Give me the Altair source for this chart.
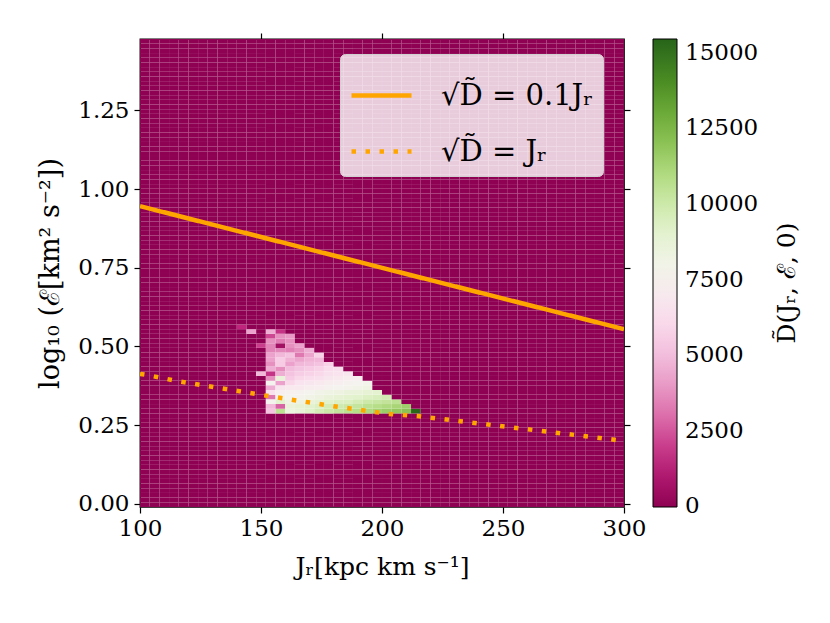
import altair as alt
import pandas as pd

# ---- grid definition (pcolormesh-like) ----
jr_min, jr_max, n_cols = 100.0, 300.0, 50
loge_min, loge_max, n_rows = -0.0101, 1.4771, 100

# non-zero cells: row index -> (first column index, values along the row)
cells_sparse = {
    38: [(10, [1500])],
    37: [(11, [4200]), (13, [4500, 1800])],
    36: [(13, [2200, 3800, 4000])],
    35: [(13, [3800, 3300, 3800])],
    34: [(12, [2000, 3500, 600, 3800, 4200])],
    33: [(13, [3500, 3600, 3400, 3800, 4500])],
    32: [(13, [4200, 4800, 5200, 3200, 4300, 5800])],
    31: [(13, [4200, 5600, 4600, 4300, 4600, 4800])],
    30: [(13, [3800, 5500, 4200, 4800, 5000, 5200, 5800])],
    29: [(13, [4500, 3800, 5000, 5300, 5500, 5800, 6200, 6400])],
    28: [(12, [4800, 1800, 4500, 5200, 5600, 5800, 6000, 6400, 6600, 6800])],
    27: [(13, [3800, 8600, 5500, 6000, 6200, 6400, 6800, 7000, 7200, 7400])],
    26: [(13, [7800, 4200, 6000, 6600, 6800, 7000, 7200, 7400, 7600, 7700, 7900])],
    25: [(13, [4500, 6800, 7000, 7000, 7200, 7400, 7600, 7800, 7900, 8000, 8200])],
    24: [(13, [6500, 7400, 7500, 7600, 7800, 8000, 8200, 8300, 8500, 8600, 8800, 9000])],
    23: [(13, [3200, 8000, 7800, 7900, 8100, 8300, 8600, 8800, 9000, 9200, 9400, 9600, 9800])],
    22: [(13, [7600, 9000, 8200, 8300, 8600, 8900, 9200, 9400, 9500, 9700, 10000, 10200, 10400, 10600])],
    21: [(13, [4800, 2800, 8600, 8800, 9100, 9400, 9700, 9900, 10100, 10300, 10600, 10800, 11000, 11200, 11500])],
    20: [(13, [5200, 10600, 8400, 8700, 9300, 9700, 10000, 10300, 10600, 10800, 11000, 11300, 11600, 11800, 12000, 15400])],
}

color_min, color_max = -20, 15460
colorbar_ticks = [0, 2500, 5000, 7500, 10000, 12500, 15000]
colorbar_title = "D̃(Jᵣ, ℰ, 0)"
x_ticks = [100, 150, 200, 250, 300]
y_ticks = [0.0, 0.25, 0.5, 0.75, 1.0, 1.25]

# curves
label_solid = "√D̃ = 0.1Jᵣ"
label_dot = "√D̃ = Jᵣ"
solid_jr = [100, 200, 300]
solid_loge = [0.946, 0.75, 0.555]
dot_jr = [100, 103.2, 114.8, 155.8, 179.3, 202.4, 214.5, 300]
dot_loge = [0.413, 0.409, 0.391, 0.339, 0.311, 0.286, 0.279, 0.200]

# ---- build table ----
dx = (jr_max - jr_min) / n_cols
dy = (loge_max - loge_min) / n_rows
vals = {}
for r, segs in cells_sparse.items():
    for c0, vs in segs:
        for k, v in enumerate(vs):
            vals[(r, c0 + k)] = v
rows = []
for r in range(n_rows):
    for c in range(n_cols):
        rows.append({
            "x": jr_min + c * dx, "x2": jr_min + (c + 1) * dx,
            "y": loge_min + r * dy, "y2": loge_min + (r + 1) * dy,
            "D": vals.get((r, c), 0),
        })
grid = pd.DataFrame(rows)

lines = pd.DataFrame(
    [{"Jr": a, "logE": b, "curve": label_solid} for a, b in zip(solid_jr, solid_loge)]
    + [{"Jr": a, "logE": b, "curve": label_dot} for a, b in zip(dot_jr, dot_loge)]
)

FONT = "DejaVu Serif"
xscale = alt.Scale(domain=[jr_min, jr_max], nice=False, zero=False)
yscale = alt.Scale(domain=[loge_min, loge_max], nice=False, zero=False)

heat = alt.Chart(grid).mark_rect(stroke="white", strokeWidth=0.5, strokeOpacity=0.03).encode(
    x=alt.X("x:Q", scale=xscale,
            axis=alt.Axis(orient="bottom", values=x_ticks, format="d", tickSize=6, tickWidth=1.2,
                          tickColor="black", labelFontSize=23, labelPadding=4, labelColor="black",
                          labelFlush=False,
                          title="Jᵣ[kpc km s⁻¹]", titleFontSize=25, titleFontWeight="normal",
                          titleColor="black", titlePadding=14, grid=False, domain=False)),
    x2="x2:Q",
    y=alt.Y("y:Q", scale=yscale,
            axis=alt.Axis(orient="left", values=y_ticks, format=".2f", tickSize=6, tickWidth=1.2,
                          tickColor="black", labelFontSize=23, labelPadding=5, labelColor="black",
                          labelFlush=False,
                          title="log₁₀ (ℰ[km² s⁻²])", titleFontSize=27, titleFontWeight="normal",
                          titleColor="black", titlePadding=13, grid=False, domain=False)),
    y2="y2:Q",
    color=alt.Color("D:Q",
                    scale=alt.Scale(scheme="pinkyellowgreen", domain=[color_min, color_max]),
                    legend=alt.Legend(type="gradient", orient="right", direction="vertical",
                                      offset=22, gradientLength=468, gradientThickness=24,
                                      gradientStrokeColor="black", gradientStrokeWidth=1,
                                      values=colorbar_ticks, format="d", labelFontSize=23,
                                      labelColor="black", labelOffset=8, labelOverlap=False,
                                      title=None)),
)

curves = alt.Chart(lines).mark_line(color="#ffa500", strokeWidth=4.5, strokeCap="butt", clip=True).encode(
    x=alt.X("Jr:Q", scale=xscale,
            axis=alt.Axis(orient="top", values=x_ticks[1:-1], labels=False, title="", tickSize=6,
                          tickWidth=1.2, tickColor="black", grid=False, domain=False)),
    y=alt.Y("logE:Q", scale=yscale,
            axis=alt.Axis(orient="right", values=y_ticks, labels=False, title="", tickSize=6,
                          tickWidth=1.2, tickColor="black", grid=False, domain=False)),
    strokeDash=alt.StrokeDash("curve:N",
                              scale=alt.Scale(domain=[label_solid, label_dot], range=[[1, 0], [4.5, 9.5]]),
                              legend=alt.Legend(orient="none", legendX=200, legendY=15, title=None,
                                                symbolType="stroke", symbolSize=3600,
                                                symbolStrokeWidth=4.5, symbolStrokeColor="#ffa500",
                                                labelFontSize=29, labelColor="black", labelOffset=27,
                                                fillColor="rgba(255,255,255,0.8)", strokeColor="#d0d0d0",
                                                cornerRadius=5, padding=9, rowPadding=8,
                                                labelLimit=400)),
    order="Jr:Q",
)

cbar_title = alt.Chart(pd.DataFrame({"t": [colorbar_title]})).mark_text(
    angle=270, fontSize=25, font=FONT, color="black", align="center", baseline="middle"
).encode(text="t:N", x=alt.value(647), y=alt.value(244))

chart = alt.layer(heat, curves, cbar_title).resolve_axis(x="independent", y="independent").properties(
    width=484, height=468,
    autosize=alt.AutoSizeParams(type="none"),
    padding={"left": 132, "top": 31, "right": 190, "bottom": 90},
).configure(font=FONT).configure_view(stroke="black", strokeWidth=1.3)

chart.save("out.html", embed_options={"renderer": "svg", "actions": False})
